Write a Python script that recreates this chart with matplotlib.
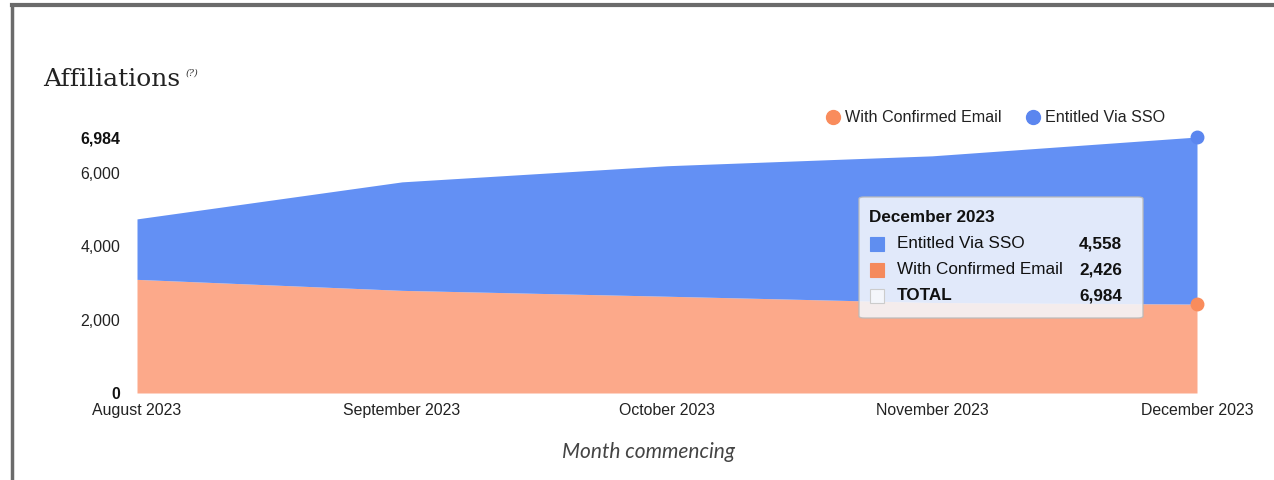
import matplotlib
matplotlib.use("Agg")
import matplotlib.pyplot as plt
from matplotlib.patches import FancyBboxPatch, Rectangle
from matplotlib.lines import Line2D

months = ["August 2023", "September 2023", "October 2023", "November 2023", "December 2023"]
confirmed_email = [3100, 2800, 2640, 2470, 2426]
entitled_sso = [1650, 2960, 3560, 4000, 4558]
total = [c + s for c, s in zip(confirmed_email, entitled_sso)]
y_ticks = [0, 2000, 4000, 6000]

blue_fill = "#6390f4"
orange_fill = "#fca98a"
blue_dot = "#5b86ef"
orange_dot = "#f98c5c"
sans = "Liberation Sans"

fig = plt.figure(figsize=(12.74, 4.8), dpi=100)
fig.patch.set_facecolor("white")

# outer panel border
fig.add_artist(Line2D([12 / 1274, 12 / 1274], [0, 1 - 5 / 480], color="#6b6b6b", lw=2.5,
                      transform=fig.transFigure))
fig.add_artist(Line2D([12 / 1274, 1], [1 - 5 / 480, 1 - 5 / 480], color="#6b6b6b", lw=3,
                      transform=fig.transFigure))

ax = fig.add_axes([137 / 1274, 1 - 393 / 480, (1197 - 137) / 1274, (393 - 137) / 480])
x = list(range(len(months)))
ax.fill_between(x, 0, confirmed_email, color=orange_fill, lw=0)
ax.fill_between(x, confirmed_email, total, color=blue_fill, lw=0)
ax.plot([x[-1]], [total[-1]], "o", color=blue_dot, ms=9, zorder=5, clip_on=False)
ax.plot([x[-1]], [confirmed_email[-1]], "o", color=orange_dot, ms=9, zorder=5, clip_on=False)

ax.set_xlim(0, len(months) - 1)
ax.set_ylim(0, total[-1])
for s in ax.spines.values():
    s.set_visible(False)
ax.set_xticks(x)
ax.set_xticklabels(months, fontsize=11.4, family=sans, color="#222222")
ax.tick_params(axis="both", length=0)
ax.tick_params(axis="x", pad=7)
ticks = y_ticks + [total[-1]]
ax.set_yticks(ticks)
ax.set_yticklabels([f"{t:,}" for t in ticks], fontsize=11.4, family=sans, color="#222222")
ax.tick_params(axis="y", pad=12)
for lab, t in zip(ax.get_yticklabels(), ticks):
    if t in (0, total[-1]):
        lab.set_fontweight("bold")
        lab.set_color("#111111")

# x-axis caption
fig.text(648 / 1274, 1 - 452 / 480, "Month commencing", fontsize=15, family="Lato",
         style="italic", color="#444444", ha="center", va="center")

# title
fig.text(43 / 1274, 1 - 80 / 480, "Affiliations", fontsize=18, family="DejaVu Serif",
         color="#222222", va="center", ha="left")
fig.text(186 / 1274, 1 - 73 / 480, "(?)", fontsize=7, family="DejaVu Serif", style="italic",
         color="#333333", va="center", ha="left")

# legend
for cx, col, label in [(833, orange_dot, "With Confirmed Email"), (1033, blue_dot, "Entitled Via SSO")]:
    fig.add_artist(Line2D([cx / 1274], [1 - 117 / 480], marker="o", color=col, ms=10,
                          transform=fig.transFigure))
    fig.text((cx + 12) / 1274, 1 - 117 / 480, label, fontsize=11.6, family=sans,
             color="#222222", va="center", ha="left")

# hover box for the last month
bx0, by0, bx1, by1 = 859, 197, 1143, 318
box = FancyBboxPatch((bx0 / 1274, 1 - by1 / 480), (bx1 - bx0) / 1274, (by1 - by0) / 480,
                     boxstyle="round,pad=0,rounding_size=0.004", transform=fig.transFigure,
                     facecolor="#f4f6fb", edgecolor="#bbbbbb", lw=1, alpha=0.88, zorder=10)
fig.add_artist(box)
fig.text(869 / 1274, 1 - 217 / 480, months[-1], fontsize=12.3, family=sans, weight="bold",
         color="#111111", va="center", zorder=11)
rows = [("Entitled Via SSO", entitled_sso[-1], "#5f8ef0", False),
        ("With Confirmed Email", confirmed_email[-1], "#f58a5c", False),
        ("TOTAL", total[-1], "#f4f6fb", True)]
for i, (name, val, col, bold) in enumerate(rows):
    yy = 244 + 26 * i
    fig.add_artist(Rectangle((870 / 1274, 1 - (yy + 7) / 480), 14 / 1274, 14 / 480,
                             transform=fig.transFigure, facecolor=col,
                             edgecolor="#cccccc" if bold else col, lw=0.8, zorder=11))
    fig.text(897 / 1274, 1 - yy / 480, name, fontsize=12.3, family=sans,
             weight="bold" if bold else "normal", color="#111111", va="center", zorder=11)
    fig.text(1122 / 1274, 1 - yy / 480, f"{val:,}", fontsize=12.3, family=sans, weight="bold",
             color="#111111", va="center", ha="right", zorder=11)

fig.savefig("out.png", dpi=100)
